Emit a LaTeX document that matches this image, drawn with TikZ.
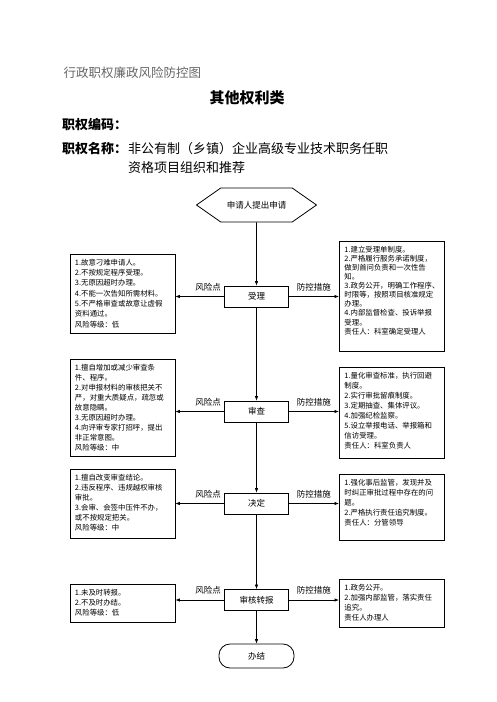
\documentclass[tikz,border=0pt]{standalone}
\usepackage{fontspec}
\setmainfont{Noto Sans CJK SC}
\usetikzlibrary{arrows.meta,shapes.symbols}

\def\gap{\vspace*{4.5pt}}
\newcommand{\boxtext}[3][10pt]{\parbox[c][#2][t]{95pt}{\raggedright\baselineskip=#1\relax\gap #3}}

\tikzset{
  stepbox/.style={draw, line width=0.8pt, minimum width=64pt, minimum height=21pt, inner sep=0pt, font=\fontsize{8.5}{10}\selectfont},
  sidebox/.style={draw, line width=0.9pt, anchor=north west, inner xsep=5pt, inner ysep=0pt, font=\fontsize{7.4}{10}\selectfont},
  flow/.style={line width=0.7pt, -{Latex[length=4.5pt,width=3.5pt]}},
  tag/.style={above=2pt, font=\fontsize{8.5}{10}\selectfont}
}

\begin{document}
\begin{tikzpicture}[x=1pt,y=-1pt]
  \useasboundingbox (0,0) rectangle (496,702);

  % heading
  \node[anchor=west, text=black!60, font=\fontsize{12.5}{14}\selectfont] (head) at (60,73) {行政职权廉政风险防控图};
  \node[font=\bfseries\fontsize{15}{17}\selectfont] (title) at (247,98) {其他权利类};
  \node[anchor=west, inner sep=0pt, font=\bfseries\fontsize{13}{15}\selectfont] (code) at (62,125) {职权编码：};
  \node[anchor=west, inner sep=0pt, font=\bfseries\fontsize{13}{15}\selectfont] (name) at (62,149) {职权名称：};
  \node[anchor=west, inner sep=0pt, font=\fontsize{13}{15}\selectfont] (namea) at (128,149) {非公有制（乡镇）企业高级专业技术职务任职};
  \node[anchor=west, inner sep=0pt, font=\fontsize{13}{15}\selectfont] (nameb) at (128,168) {资格项目组织和推荐};

  % steps
  \node[draw, signal, signal to=west and east, signal pointer angle=70, line width=0.8pt, minimum width=120pt, minimum height=34pt, inner sep=0pt, font=\fontsize{8.5}{10}\selectfont] (0) at (256.5,205) {申请人提出申请};
  \node[stepbox] (1) at (256.5,296.5) {受理};
  \node[stepbox] (2) at (256.5,411.5) {审查};
  \node[stepbox] (3) at (256.5,503.5) {决定};
  \node[stepbox] (4) at (256.5,600) {审核转报};
  \node[draw, line width=0.8pt, rounded corners=11pt, minimum width=75pt, minimum height=24pt, inner sep=0pt, font=\fontsize{8.5}{10}\selectfont] (5) at (256.5,656) {办结};

  % risks
  \node[sidebox] (r1) at (69.5,254) {\boxtext[10.3pt]{79pt}{1.故意刁难申请人。\\2.不按规定程序受理。\\3.无原因超时办理。\\4.不能一次告知所需材料。\\5.不严格审查或故意让虚假\\资料通过。\\风险等级：低}};
  \node[sidebox] (r2) at (69.5,359) {\boxtext{97pt}{1.擅自增加或减少审查条\\件、程序。\\2.对申报材料的审核把关不\\严，对重大质疑点，疏忽或\\故意隐瞒。\\3.无原因超时办理。\\4.向评审专家打招呼，提出\\非正常意图。\\风险等级：中}};
  \node[sidebox] (r3) at (69.5,469) {\boxtext{69pt}{1.擅自改变审查结论。\\2.违反程序、违规越权审核\\审批。\\3.会审、会签中压件不办，\\或不按规定把关。\\风险等级：中}};
  \node[sidebox] (r4) at (69.5,584) {\boxtext{38pt}{1.未及时转报。\\2.不及时办结。\\风险等级：低}};

  % measures
  \node[sidebox] (m1) at (339,241) {\boxtext[9.1pt]{110pt}{1.建立受理单制度。\\2.严格履行服务承诺制度，\\做到首问负责和一次性告\\知。\\3.政务公开，明确工作程序、\\时限等，按照项目核准规定\\办理。\\4.内部监督检查、投诉举报\\受理。\\责任人：科室确定受理人}};
  \node[sidebox] (m2) at (339,367) {\boxtext{91pt}{1.量化审查标准，执行回避\\制度。\\2.实行审批留痕制度。\\3.定期抽查、集体评议。\\4.加强纪检监察。\\5.设立举报电话、举报箱和\\信访受理。\\责任人：科室负责人}};
  \node[sidebox] (m3) at (339,474) {\boxtext{66pt}{1.强化事后监管，发现并及\\时纠正审批过程中存在的问\\题。\\2.严格执行责任追究制度。\\责任人：分管领导}};
  \node[sidebox] (m4) at (339,579) {\boxtext{48pt}{1.政务公开。\\2.加强内部监管，落实责任\\追究。\\责任人办理人}};

  \draw[flow] (0) -- (1);
  \draw[flow] (1) -- (2);
  \draw[flow] (2) -- (3);
  \draw[flow] (3) -- (4);
  \draw[flow] (4) -- (5);

  \draw[flow] (1.west) -- (1.west -| r1.east) node[tag, pos=0.33] {风险点};
  \draw[flow] (1.east) -- (1.east -| m1.west) node[tag, pos=0.5] {防控措施};
  \draw[flow] (2.west) -- (2.west -| r2.east) node[tag, pos=0.33] {风险点};
  \draw[flow] (2.east) -- (2.east -| m2.west) node[tag, pos=0.5] {防控措施};
  \draw[flow] (3.west) -- (3.west -| r3.east) node[tag, pos=0.33] {风险点};
  \draw[flow] (3.east) -- (3.east -| m3.west) node[tag, pos=0.5] {防控措施};
  \draw[flow] (4.west) -- (4.west -| r4.east) node[tag, pos=0.33] {风险点};
  \draw[flow] (4.east) -- (4.east -| m4.west) node[tag, pos=0.5] {防控措施};
\end{tikzpicture}
\end{document}
